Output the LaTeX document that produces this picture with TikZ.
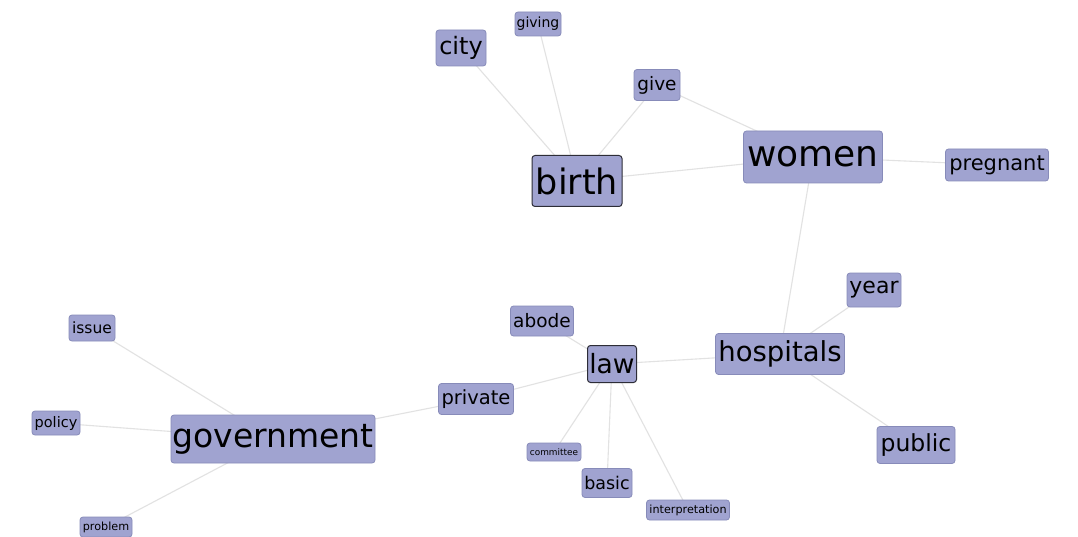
\documentclass[tikz,border=0pt]{standalone}
\usepackage{fontspec}
\setmainfont{DejaVu Sans}
\usetikzlibrary{backgrounds}
\definecolor{nodefill}{RGB}{160,163,208}
\definecolor{nodeborder}{RGB}{135,139,185}
\definecolor{edgecol}{RGB}{226,226,226}
\definecolor{darkborder}{RGB}{45,45,55}
\newcommand\fsz[1]{\fontsize{#1}{#1}\selectfont}
\tikzset{
  word/.style={draw=nodeborder, fill=nodefill, rounded corners=3pt, inner sep=0pt, line width=0.8pt, text=black},
  keyword/.style={word, draw=darkborder, line width=1pt},
  link/.style={draw=edgecol, line width=1.1pt}
}
\begin{document}
\begin{tikzpicture}[x=1pt,y=-1pt]
\useasboundingbox (0,0) rectangle (1078,537);
% nodes
\node[word, minimum width=46, minimum height=24, font=\fsz{14}] (giving) at (538,24) {giving};
\node[word, minimum width=50, minimum height=36, font=\fsz{24}] (city) at (461,48) {city};
\node[word, minimum width=46, minimum height=31, font=\fsz{18.5}] (give) at (657,85) {give};
\node[keyword, minimum width=90, minimum height=51, font=\fsz{35}] (birth) at (577,181) {birth};
\node[word, minimum width=139, minimum height=52, font=\fsz{36}] (women) at (813,157) {women};
\node[word, minimum width=103, minimum height=32, font=\fsz{21}] (pregnant) at (997,165) {pregnant};
\node[word, minimum width=54, minimum height=34, font=\fsz{22}] (year) at (874,290) {year};
\node[word, minimum width=129, minimum height=41, font=\fsz{27.5}] (hospitals) at (780,354) {hospitals};
\node[word, minimum width=78, minimum height=37, font=\fsz{23.5}] (public) at (916,445) {public};
\node[word, minimum width=63, minimum height=30, font=\fsz{18.5}] (abode) at (542,321) {abode};
\node[keyword, minimum width=49, minimum height=37, font=\fsz{26.5}] (law) at (612,364) {law};
\node[word, minimum width=75, minimum height=31, font=\fsz{19.5}] (private) at (476,399) {private};
\node[word, minimum width=54, minimum height=18, font=\fsz{8.9}] (committee) at (554,452) {committee};
\node[word, minimum width=50, minimum height=29, font=\fsz{17.5}] (basic) at (607,483) {basic};
\node[word, minimum width=83, minimum height=20, font=\fsz{11.2}] (interp) at (688,510) {interpretation};
\node[word, minimum width=204, minimum height=48, font=\fsz{33}] (government) at (273,439) {government};
\node[word, minimum width=46, minimum height=26, font=\fsz{15.5}] (issue) at (92,328) {issue};
\node[word, minimum width=48, minimum height=24, font=\fsz{14.5}] (policy) at (56,423) {policy};
\node[word, minimum width=52, minimum height=20, font=\fsz{11.2}] (problem) at (106,527) {problem};
% edges
\begin{pgfonlayer}{background}
\fill[white] (0,0) rectangle (1078,537);
\draw[link] (city.center) -- (birth.center);
\draw[link] (giving.center) -- (birth.center);
\draw[link] (give.center) -- (birth.center);
\draw[link] (birth.center) -- (women.center);
\draw[link] (give.center) -- (women.center);
\draw[link] (women.center) -- (pregnant.center);
\draw[link] (women.center) -- (hospitals.center);
\draw[link] (hospitals.center) -- (year.center);
\draw[link] (hospitals.center) -- (public.center);
\draw[link] (hospitals.center) -- (law.center);
\draw[link] (law.center) -- (abode.center);
\draw[link] (law.center) -- (private.center);
\draw[link] (law.center) -- (committee.center);
\draw[link] (law.center) -- (basic.center);
\draw[link] (law.center) -- (interp.center);
\draw[link] (private.center) -- (government.center);
\draw[link] (government.center) -- (issue.center);
\draw[link] (government.center) -- (policy.center);
\draw[link] (government.center) -- (problem.center);
\end{pgfonlayer}
\end{tikzpicture}
\end{document}
